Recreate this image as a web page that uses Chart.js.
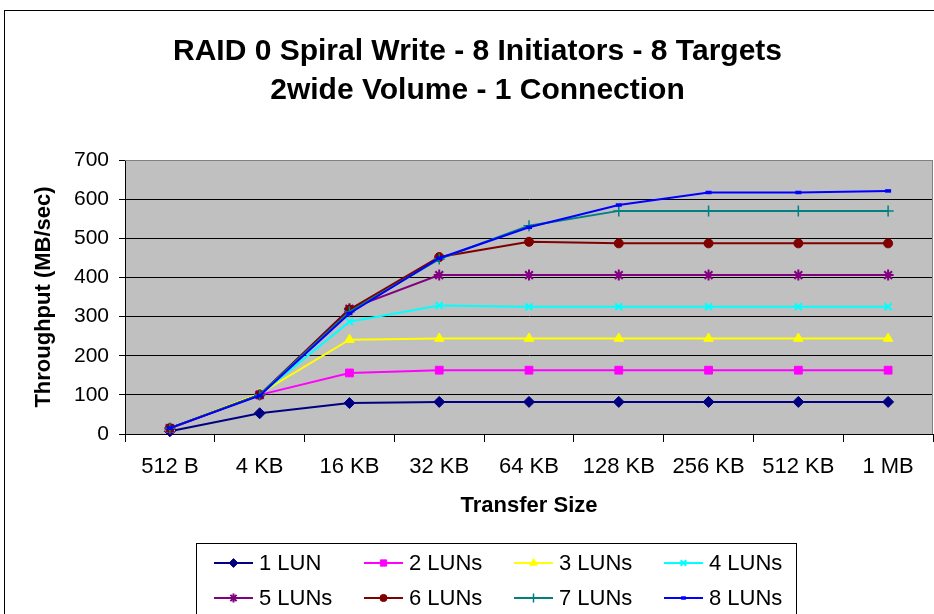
<!DOCTYPE html>
<html>
<head>
<meta charset="utf-8">
<script src="https://cdn.jsdelivr.net/npm/chart.js"></script>
<style>
  html, body { margin: 0; padding: 0; background: #ffffff; }
  #wrap { width: 934px; height: 614px; position: relative; }
  canvas { display: block; }
</style>
</head>
<body>
<div id="wrap"><canvas id="c" width="934" height="614"></canvas></div>
<script>
// ---- data ----
const categories = ['512 B', '4 KB', '16 KB', '32 KB', '64 KB', '128 KB', '256 KB', '512 KB', '1 MB'];
const seriesNames = ['1 LUN', '2 LUNs', '3 LUNs', '4 LUNs', '5 LUNs', '6 LUNs', '7 LUNs', '8 LUNs'];
const lun1 = [7, 53, 79, 82, 82, 82, 82, 82, 82];
const lun2 = [14, 100, 156, 163, 163, 163, 163, 163, 163];
const lun3 = [15, 103, 241, 244, 244, 244, 244, 244, 244];
const lun4 = [15, 100, 287, 328, 325, 325, 325, 325, 325];
const lun5 = [15, 100, 320, 406, 406, 406, 406, 406, 406];
const lun6 = [15, 100, 318, 452, 491, 487, 487, 487, 487];
const lun7 = [15, 100, 312, 447, 532, 570, 570, 570, 570];
const lun8 = [15, 98, 308, 449, 528, 585, 617, 617, 621];
const yTicks = [0, 100, 200, 300, 400, 500, 600, 700];
const titleLines = ['RAID 0 Spiral Write - 8 Initiators - 8 Targets', '2wide Volume - 1 Connection'];
const xTitle = 'Transfer Size';
const yTitle = 'Throughput (MB/sec)';

// ---- styles ----
const FONT = "'Liberation Sans', Arial, Helvetica, sans-serif";
const styles = [
  { color: '#000080', point: 'rectRot', r: 5.5, bw: 1 },
  { color: '#FF00FF', point: 'rect', r: 5.5, bw: 1 },
  { color: '#FFFF00', point: 'triangle', r: 5.5, bw: 1 },
  { color: '#00FFFF', point: 'crossRot', r: 5, bw: 2 },
  { color: '#800080', point: 'star', r: 5.5, bw: 2 },
  { color: '#800000', point: 'circle', r: 4.5, bw: 1 },
  { color: '#008080', point: 'cross', r: 5.5, bw: 1.5 },
  { color: '#0000FF', point: 'line', r: 3, bw: 3.5 }
];
const allSeries = [lun1, lun2, lun3, lun4, lun5, lun6, lun7, lun8];

const datasets = allSeries.map((vals, i) => ({
  label: seriesNames[i],
  data: vals,
  borderColor: styles[i].color,
  backgroundColor: styles[i].color,
  pointStyle: styles[i].point,
  pointRadius: styles[i].r,
  pointHoverRadius: styles[i].r,
  pointBorderWidth: styles[i].bw,
  pointBorderColor: styles[i].color,
  pointBackgroundColor: styles[i].color,
  borderWidth: 2,
  tension: 0,
  fill: false,
  clip: false,
  order: 8 - i
}));

const PAD_LEFT = 22, PLOT_LEFT = 125;

const frame = {
  id: 'frame',
  beforeDraw(chart) {
    const ctx = chart.ctx;
    const a = chart.chartArea;
    ctx.save();
    ctx.fillStyle = '#ffffff';
    ctx.fillRect(0, 0, chart.width, chart.height);
    ctx.strokeStyle = '#000000';
    ctx.lineWidth = 1;
    ctx.strokeRect(4.5, 10.5, 1200, 1200);
    ctx.fillStyle = '#C0C0C0';
    ctx.fillRect(a.left, a.top, a.right - a.left, a.bottom - a.top);
    ctx.restore();
  },
  afterDatasetsDraw(chart) {
    const ctx = chart.ctx;
    const a = chart.chartArea;
    ctx.save();
    ctx.strokeStyle = '#808080';
    ctx.lineWidth = 1;
    ctx.beginPath();
    ctx.moveTo(a.left, a.top + 0.5);
    ctx.lineTo(a.right - 0.5, a.top + 0.5);
    ctx.lineTo(a.right - 0.5, a.bottom);
    ctx.stroke();
    ctx.restore();
  },
  afterDraw(chart) {
    const ctx = chart.ctx;
    ctx.save();
    ctx.strokeStyle = '#000000';
    ctx.lineWidth = 1;
    ctx.strokeRect(196.5, 543.5, 600, 100);
    chart.data.datasets.forEach((ds, i) => {
      const col = i % 4, row = Math.floor(i / 4);
      const x0 = 214 + col * 150;
      const y = 563 + row * 35;
      ctx.strokeStyle = ds.borderColor;
      ctx.lineWidth = 2;
      ctx.beginPath();
      ctx.moveTo(x0, y);
      ctx.lineTo(x0 + 39, y);
      ctx.stroke();
      ctx.fillStyle = ds.pointBackgroundColor;
      ctx.strokeStyle = ds.pointBorderColor;
      ctx.lineWidth = ds.pointBorderWidth;
      if (Chart.helpers && Chart.helpers.drawPoint) {
        Chart.helpers.drawPoint(ctx, {
          pointStyle: ds.pointStyle,
          radius: ds.pointRadius * 0.8,
          rotation: 0,
          borderWidth: ds.pointBorderWidth
        }, x0 + 19.5, y);
      }
      ctx.fillStyle = '#000000';
      ctx.font = '22px ' + FONT;
      ctx.textAlign = 'left';
      ctx.textBaseline = 'middle';
      ctx.fillText(ds.label, x0 + 45, y + 1);
    });
    ctx.restore();
  }
};

new Chart(document.getElementById('c'), {
  type: 'line',
  data: { labels: categories, datasets: datasets },
  plugins: [frame],
  options: {
    responsive: false,
    animation: false,
    devicePixelRatio: 1,
    layout: { autoPadding: false, padding: { left: PAD_LEFT, right: 1, top: 0, bottom: 92 } },
    plugins: {
      legend: { display: false },
      tooltip: { enabled: false },
      title: {
        display: true,
        text: titleLines,
        color: '#000000',
        font: { family: FONT, size: 30, weight: 'bold', lineHeight: 39 / 30 },
        padding: { top: 32, bottom: 50 }
      }
    },
    scales: {
      x: {
        type: 'category',
        offset: true,
        grid: {
          offset: true,
          drawOnChartArea: false,
          drawTicks: true,
          tickLength: 8,
          tickColor: '#000000',
          color: '#000000'
        },
        border: { display: true, color: '#000000', width: 1 },
        ticks: {
          color: '#000000',
          font: { family: FONT, size: 22 },
          padding: 12,
          maxRotation: 0,
          autoSkip: false
        },
        title: {
          display: true,
          text: xTitle,
          color: '#000000',
          font: { family: FONT, size: 22, weight: 'bold' },
          padding: { top: 4, bottom: 3 }
        },
        afterFit(scale) { scale.height = 88; scale.paddingLeft = 0; scale.paddingRight = 0; }
      },
      y: {
        min: 0,
        max: 700,
        afterBuildTicks(scale) { scale.ticks = yTicks.map(v => ({ value: v })); },
        grid: {
          color: (c) => (c.tick && c.tick.value === 700) ? '#808080' : '#000000',
          lineWidth: 1,
          drawTicks: true,
          tickLength: 6,
          tickColor: '#000000'
        },
        border: { display: true, color: '#000000', width: 1 },
        ticks: {
          color: '#000000',
          font: { family: FONT, size: 21 },
          padding: 10
        },
        title: {
          display: true,
          text: yTitle,
          color: '#000000',
          font: { family: FONT, size: 22, weight: 'bold' },
          padding: { top: 9, bottom: 0 }
        },
        afterFit(scale) { scale.width = PLOT_LEFT - PAD_LEFT; }
      }
    }
  }
});
</script>
</body>
</html>
